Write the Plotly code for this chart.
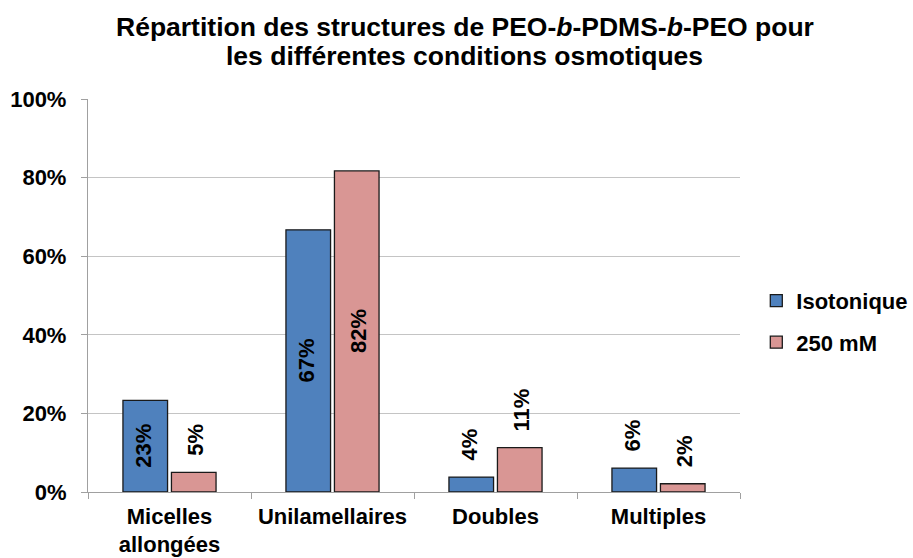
import plotly.graph_objects as go

# Structure categories and percentages for each osmotic condition
categories = ["Micelles<br>allongées", "Unilamellaires", "Doubles", "Multiples"]
isotonique = [23.3, 66.7, 3.8, 6.1]
mm250 = [5.0, 81.7, 11.3, 2.1]
y_ticks = [0, 20, 40, 60, 80, 100]
title_lines = ["Répartition des structures de PEO-<i>b</i>-PDMS-<i>b</i>-PEO pour",
               "les différentes conditions osmotiques"]

FONT = "Liberation Sans, Arial, Helvetica, sans-serif"
BLUE = "#4F81BD"
PINK = "#D99694"
INSIDE_MIN = 20   # values above this get their label inside the bar
BAR_OFFSET = 26   # px from category centre to each bar's centre
LABEL_SIZE = 22

series = [("Isotonique", isotonique, BLUE, "a", -BAR_OFFSET),
          ("250 mM", mm250, PINK, "b", BAR_OFFSET)]

fig = go.Figure()
annotations = []
for name, vals, color, grp, xshift in series:
    fig.add_trace(go.Bar(
        name=name,
        x=categories,
        y=vals,
        marker=dict(color=color, line=dict(color="#1a1a1a", width=1.3)),
        legendgroup=grp,
        hoverinfo="x+y+name",
    ))
    # rotated value labels: centred inside tall bars, above short ones
    for cat, v in zip(categories, vals):
        inside = v >= INSIDE_MIN
        annotations.append(dict(
            x=cat, y=v / 2 if inside else v,
            xref="x", yref="y",
            xshift=xshift, yshift=0 if inside else 14,
            text=f"<b>{round(v)}%</b>",
            textangle=-90,
            showarrow=False,
            xanchor="center",
            yanchor="middle" if inside else "bottom",
            font=dict(family=FONT, size=LABEL_SIZE, color="black"),
        ))

# two-line title, one annotation per line for tighter line spacing
for line, ypos in zip(title_lines, [1.183, 1.110]):
    annotations.append(dict(
        text=f"<b>{line}</b>",
        x=0.578, xref="paper", xanchor="center",
        y=ypos, yref="paper", yanchor="middle",
        showarrow=False,
        font=dict(family=FONT, size=26.5, color="black"),
    ))

fig.update_layout(
    width=913,
    height=558,
    margin=dict(l=88, r=173, t=99, b=66, autoexpand=False),
    paper_bgcolor="white",
    plot_bgcolor="white",
    barmode="group",
    bargap=0.405,
    bargroupgap=0.08,
    font=dict(family=FONT, size=22, color="black"),
    annotations=annotations,
    legend=dict(
        x=1.025, y=0.540, xanchor="left", yanchor="top",
        font=dict(family=FONT, size=22, color="black", weight="bold"),
        traceorder="grouped",
        tracegroupgap=10,
        bgcolor="rgba(0,0,0,0)",
    ),
    showlegend=True,
)

fig.update_yaxes(
    range=[0, 100],
    tickvals=y_ticks,
    ticktext=[f"<b>{t}%</b>" for t in y_ticks],
    showgrid=True, gridcolor="#C4C4C4", gridwidth=1.3,
    showline=True, linecolor="#A0A0A0", linewidth=1.3,
    ticks="outside", ticklen=6, tickcolor="#A0A0A0", tickwidth=1.3,
    ticklabelstandoff=10,
    tickfont=dict(family=FONT, size=22, color="black"),
    zeroline=False,
    automargin=False,
)
fig.update_xaxes(
    tickvals=categories,
    ticktext=[f"<b>{c}</b>" for c in categories],
    showline=True, linecolor="#A0A0A0", linewidth=1.3,
    ticks="outside", ticklen=6, tickcolor="#A0A0A0", tickwidth=1.3,
    tickson="boundaries",
    ticklabelstandoff=4,
    tickfont=dict(family=FONT, size=22, color="black"),
    automargin=False,
)

fig.write_html("out.html")
